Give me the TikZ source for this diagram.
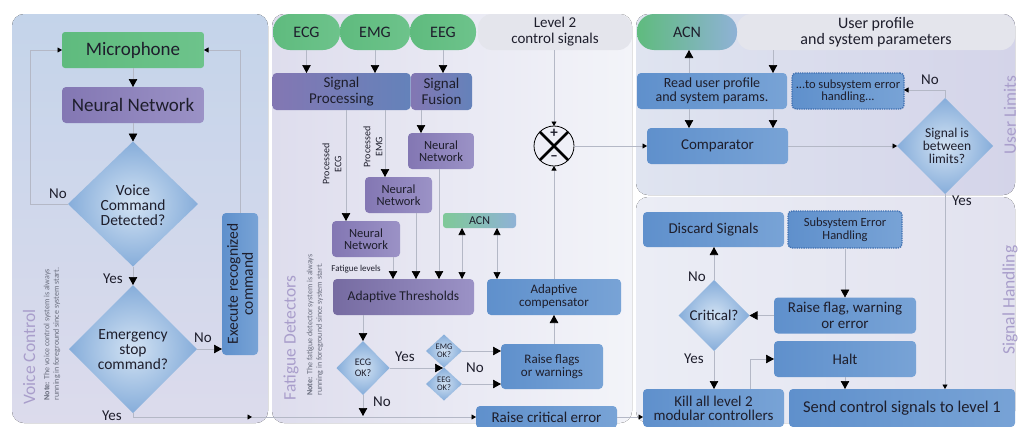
\documentclass[tikz,border=0pt]{standalone}
\usepackage{fontspec}
\setmainfont{Carlito}
\usetikzlibrary{shapes.geometric,arrows.meta}
\definecolor{txt}{HTML}{1E1E2C}
\definecolor{notec}{HTML}{6A6E7E}
\definecolor{lnc}{HTML}{B4B8C6}
\definecolor{lav}{HTML}{A99ECB}
\definecolor{p1t}{HTML}{C4D4EA}
\definecolor{p1b}{HTML}{DCDBEC}
\definecolor{p2l}{HTML}{DEDDED}
\definecolor{p2r}{HTML}{F3F4F9}
\definecolor{p3l}{HTML}{DFE4F0}
\definecolor{p3r}{HTML}{D4D4E9}
\definecolor{p4l}{HTML}{EBEDF5}
\definecolor{p4r}{HTML}{E2E2EF}
\definecolor{gry}{HTML}{E4E5EC}
\definecolor{bA}{HTML}{5F90CC}
\definecolor{bB}{HTML}{BCD3EC}
\definecolor{bC}{HTML}{78A3D6}
\definecolor{dA}{HTML}{86ADDA}
\definecolor{dB}{HTML}{D2E2F3}
\definecolor{pA}{HTML}{8377B3}
\definecolor{pB}{HTML}{BDB6DA}
\definecolor{pC}{HTML}{9B92C6}
\definecolor{spR}{HTML}{6482BA}
\definecolor{gA}{HTML}{5FBB7E}
\definecolor{gB}{HTML}{CBEAD4}
\definecolor{gC}{HTML}{6DC38B}
\definecolor{acR}{HTML}{8FB2D6}
\definecolor{dotc}{HTML}{3F6FB0}
\begin{document}
\begin{tikzpicture}[x=1pt,y=-1pt,
  every node/.style={inner sep=0pt, outer sep=0pt, text=txt},
  sz/.style 2 args={minimum width=#1pt, minimum height=#2pt},
  f/.style 2 args={font=\fontsize{#1}{#2}\selectfont},
  bluebox/.style={rounded corners=4pt, left color=bA, middle color=bB, right color=bC, align=center},
  purplebox/.style={rounded corners=4pt, left color=pA, middle color=pB, right color=pC, align=center},
  greenbox/.style={rounded corners=3pt, left color=gA, middle color=gB, right color=gC, align=center},
  greenpill/.style={rounded corners=17pt, left color=gA, middle color=gB, right color=gC, align=center},
  acnpill/.style={rounded corners=17pt, left color=gA, middle color=gB, right color=acR, align=center},
  greypill/.style={rounded corners=14pt, fill=gry, align=center},
  dotbox/.style={bluebox, draw=dotc, densely dotted, line width=1.3pt},
  diam/.style={diamond, inner color=dB, outer color=dA},
  ln/.style={draw=lnc, line width=0.7pt},
  arr/.style={ln, -{Triangle[length=8pt,width=8.5pt,color=black]}},
  sarr/.style={ln, -{Triangle[length=4.5pt,width=5pt,color=black]}},
  dbl/.style={ln, {Triangle[length=7pt,width=7pt,color=black]}-{Triangle[length=7pt,width=7pt,color=black]}},
  plab/.style={rotate=90, f={17.5}{18}, text=lav},
  note/.style={rotate=90, f={8}{9.5}, text=notec, align=left},
  yn/.style={f={15}{15}}
]
\fill[white] (0,0) rectangle (1019,426);
\useasboundingbox (0,0) rectangle (1019,426);

% panels
\fill[rounded corners=12pt, top color=p1t, bottom color=p1b] (12,14) rectangle (268,423);
\fill[rounded corners=12pt, left color=p2l, right color=p2r] (272,14) rectangle (632,423);
\fill[rounded corners=12pt, left color=p3l, right color=p3r] (636,14) rectangle (1015,195);
\fill[rounded corners=12pt, left color=p4l, right color=p4r] (636,197) rectangle (1015,423);

% top pills
\node[greenpill, sz={67}{36}, f={16}{16}] (ecg) at (306.5,32) {ECG};
\node[greenpill, sz={70}{36}, f={16}{16}] (emg) at (375,32) {EMG};
\node[greenpill, sz={66}{36}, f={16}{16}] (eeg) at (443,32) {EEG};
\node[greypill, sz={154}{36}, f={15}{16}] (lvl2) at (555,32) {Level 2\\control signals};
\node[greypill, sz={278}{36}, f={16}{16}] (ups) at (876,32) {User profile\\and system parameters};
\node[acnpill, sz={100}{36}, f={16}{16}] (acn) at (687,32) {ACN};

% voice control
\node[greenbox, sz={142}{36}, f={19}{20}] (mic) at (133,50) {Microphone};
\node[purplebox, sz={142}{36}, f={19}{20}] (nnv) at (133,105) {Neural Network};
\node[diam, sz={130}{125}] (d1) at (133,204) {};
\node[f={15.5}{15}, align=center] (d1t) at (133,205) {Voice\\Command\\Detected?};
\node[diam, sz={128}{128}] (d2) at (133,349) {};
\node[f={15.5}{15}, align=center] (d2t) at (133,350) {Emergency\\stop\\command?};
\node[bluebox, sz={36}{142}] (exec) at (240,284) {};
\node[rotate=90, f={15.5}{15}, align=center] (exect) at (240,284) {Execute recognized\\command};
\node[yn] (no1) at (58,194) {No};
\node[yn] (yes1) at (113,279) {Yes};
\node[yn] (no2) at (203,338) {No};
\node[yn] (yes2) at (112,416) {Yes};
\node[plab] (vcl) at (29,357) {Voice Control};
\node[note] (note1) at (52,334) {\textbf{Note:} The voice control system is always\\running in foreground since system start.};

% fatigue detectors
\node[purplebox, right color=spR, sz={138}{37}, f={15}{16}] (sp) at (341.5,91.5) {Signal\\Processing};
\node[purplebox, right color=spR, sz={61}{37}, f={15}{16}] (sf) at (441.5,91.5) {Signal\\Fusion};
\node[purplebox, sz={66}{36}, f={12.5}{12.5}] (nn1) at (441,151) {Neural\\Network};
\node[purplebox, sz={67}{36}, f={12.5}{12.5}] (nn2) at (398.5,195) {Neural\\Network};
\node[purplebox, sz={68}{36}, f={12.5}{12.5}] (nn3) at (366,239) {Neural\\Network};
\node[rounded corners=3pt, left color=gA!80, middle color=gB, right color=acR, sz={73}{15}, f={12}{12}] (acn2) at (479.5,220.5) {ACN};
\node[purplebox, left color=pA!90!black, sz={141}{36}, f={13.5}{14}] (at) at (403.5,297) {Adaptive Thresholds};
\node[bluebox, sz={134}{36}, f={13}{13}] (ac) at (554,297) {Adaptive\\compensator};
\node[diam, sz={53}{54}] (d3) at (363,368) {};
\node[f={10}{11}, align=center] (d3t) at (363,368) {ECG\\OK?};
\node[diam, sz={36}{33}] (d4) at (444,351) {};
\node[f={8.5}{8.5}, align=center] (d4t) at (444,351) {EMG\\OK?};
\node[diam, sz={36}{33}] (d5) at (444,384) {};
\node[f={8.5}{8.5}, align=center] (d5t) at (444,384) {EEG\\OK?};
\node[bluebox, sz={102}{45}, f={13}{13}] (rf) at (552,366.5) {Raise flags\\or warnings};
\node[bluebox, sz={141}{22}, f={15}{15}] (rce) at (546.5,417) {Raise critical error};
\node[circle, draw=black, line width=0.8pt, minimum size=40pt] (sum) at (554,146) {};
\draw[line width=2.6pt, black] (sum.45) -- (sum.225) (sum.135) -- (sum.-45);
\node[font=\bfseries\fontsize{15}{15}\selectfont] (plus) at (554,133.5) {+};
\node[font=\bfseries\fontsize{15}{15}\selectfont] (minus) at (554,158.5) {\textendash};
\node[yn] (yes3) at (405,357) {Yes};
\node[yn] (no3) at (475,368) {No};
\node[yn] (no4) at (382,402) {No};
\node[f={9}{9}] (flev) at (356,269) {Fatigue levels};
\node[rotate=90, f={10}{12}, align=center] (pecg) at (332,164) {Processed\\ECG};
\node[rotate=90, f={10}{12}, align=center] (pemg) at (373,147) {Processed\\EMG};
\node[plab] (fdl) at (291,338) {Fatigue Detectors};
\node[note] (note2) at (315,325) {\textbf{Note:} The fatigue detector system is always\\running in foreground since system start.};

% user limits
\node[bluebox, sz={150}{36}, f={14}{14}] (rup) at (712,91) {Read user profile\\and system params.};
\node[dotbox, sz={112}{36}, f={12.5}{12.5}] (tse) at (848,91) {...to subsystem error\\handling...};
\node[bluebox, sz={141}{36}, f={15}{15}] (cmp) at (717.5,146) {Comparator};
\node[diam, sz={96}{96}] (d6) at (945,146) {};
\node[f={13.5}{13}, align=center] (d6t) at (947,146) {Signal is\\between\\limits?};
\node[yn] (no5) at (930,80) {No};
\node[yn] (yes5) at (962,201) {Yes};
\node[plab] (ull) at (1010,115) {User Limits};

% signal handling
\node[bluebox, sz={141}{35}, f={15}{15}] (ds) at (713.5,229.5) {Discard Signals};
\node[dotbox, sz={114}{37}, f={12.5}{12.5}] (seh) at (845,229.5) {Subsystem Error\\Handling};
\node[bluebox, sz={142}{36}, f={15}{15.5}] (rfw) at (845,315.5) {Raise flag, warning\\or error};
\node[bluebox, sz={142}{36}, f={15}{15}] (halt) at (845,359) {Halt};
\node[diam, sz={71}{71}] (d7) at (714,315.5) {};
\node[f={15}{15}] (d7t) at (714,315.5) {Critical?};
\node[bluebox, sz={141}{38}, f={15}{14}] (kill) at (713.5,408) {Kill all level 2\\modular controllers};
\node[bluebox, sz={226}{38}, f={16.5}{16.5}] (send) at (902,408) {Send control signals to level 1};
\node[yn] (no6) at (697,277) {No};
\node[yn] (yes6) at (694,359) {Yes};
\node[plab] (shl) at (1010,300) {Signal Handling};

% ---- connectors: voice
\draw[arr] (mic.south) -- (nnv.north);
\draw[arr] (nnv.south) -- (d1.north);
\coordinate (vl) at (30,204);
\draw[sarr] (d1.west) -- (vl) |- (mic.west);
\draw[arr] (d1.south) -- (d2.north);
\draw[arr] (d2.east) -- (d2.east -| exec.west);
\coordinate (vr) at (240,50);
\draw[sarr] (exec.north) -- (vr) -- (mic.east);
\coordinate (b1) at (252,417);
\draw[sarr] (d2.south) |- (b1);
\draw[sarr] (b1) -- (b1 -| rce.west);
\draw[sarr] (rce.east) -- (rce.east -| kill.west);

% ---- connectors: fatigue
\draw[arr] (ecg.south) -- (ecg.south |- sp.north);
\draw[arr] (emg.south) -- (emg.south |- sp.north);
\draw[arr] (eeg.south) -- (eeg.south |- sf.north);
\coordinate (x1) at (346,110); \draw[arr] (x1) -- (x1 |- nn3.north);
\coordinate (x2) at (385,110); \draw[arr] (x2) -- (x2 |- nn2.north);
\coordinate (x3) at (421,110); \draw[arr] (x3) -- (x3 |- nn1.north);
\coordinate (x4) at (393,257); \draw[arr] (x4) -- (x4 |- at.north);
\coordinate (x5) at (416,213); \draw[arr] (x5) -- (x5 |- at.north);
\coordinate (x6) at (439,169); \draw[arr] (x6) -- (x6 |- at.north);
\coordinate (x7) at (462,228); \draw[dbl] (x7) -- (x7 |- at.north);
\coordinate (x8) at (497,228); \draw[dbl] (x8) -- (x8 |- ac.north);
\draw[arr] (at.south -| d3.north) -- (d3.north);
\coordinate (yj) at (443,368); \draw[arr] (d3.east) -- (yj);
\draw[arr] (d4.east) -- (d4.east -| rf.west);
\draw[arr] (d5.east) -- (d5.east -| rf.west);
\draw[arr] (ac.south |- rf.north) -- (ac.south);
\coordinate (dn) at (363,416); \draw[arr] (d3.south) -- (dn);
\draw[sarr] (sum.north |- lvl2.south) -- (sum.north);
\draw[sarr] (ac.north) -- (sum.south);
\draw[sarr] (sum.east) -- (sum.east -| cmp.west);

% ---- connectors: user limits
\coordinate (u1) at (689,73); \draw[arr] (u1) -- (u1 |- acn.south);
\coordinate (u2) at (773,50); \draw[arr] (u2) -- (u2 |- rup.north);
\coordinate (u3) at (689,109); \draw[arr] (u3) -- (u3 |- cmp.north);
\coordinate (u4) at (773,109); \draw[arr] (u4) -- (u4 |- cmp.north);
\draw[sarr] (cmp.east) -- (d6.west);
\coordinate (u5) at (945,90); \draw[sarr] (d6.north) -- (u5) -- (u5 -| tse.east);
\draw[sarr] (d6.south) -- (d6.south |- send.north);

% ---- connectors: signal handling
\draw[arr] (seh.south) -- (rfw.north);
\draw[arr] (rfw.west) -- (d7.east);
\draw[arr] (d7.north) -- (d7.north |- ds.south);
\draw[arr] (d7.south) -- (d7.south |- kill.north);
\coordinate (s1) at (750,389); \draw[arr] (s1) |- (halt.west);
\draw[arr] (halt.south) -- (halt.south |- send.north);
\end{tikzpicture}
\end{document}
